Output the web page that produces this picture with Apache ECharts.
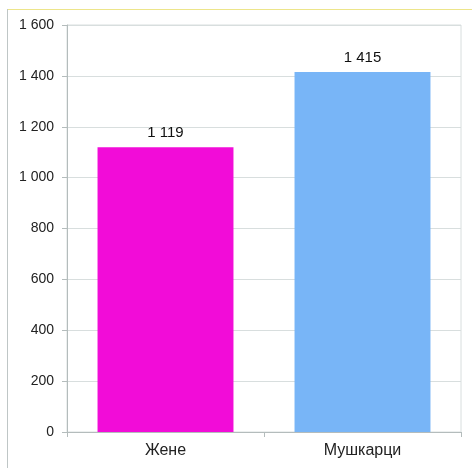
<!DOCTYPE html>
<html>
<head>
<meta charset="utf-8">
<script src="https://cdn.jsdelivr.net/npm/echarts@6/dist/echarts.min.js"></script>
<style>
html,body{margin:0;padding:0;background:#fff;}
#c{width:472px;height:468px;}
</style>
</head>
<body>
<div id="c"></div>
<script>
const categories = ['Жене', 'Мушкарци'];
const values = [1119, 1415];
const barColors = ['#F20CD8', '#78B5F7'];

function fmt(v) {
  return String(v).replace(/\B(?=(\d{3})+(?!\d))/g, ' ');
}

const chart = echarts.init(document.getElementById('c'), null, {renderer: 'canvas'});
chart.setOption({
  animation: false,
  backgroundColor: '#fff',
  textStyle: {fontFamily: 'Liberation Sans, Arial, sans-serif'},
  grid: {left: 67, right: 11, top: 25, bottom: 36, show: true, borderColor: '#D8DEDE', borderWidth: 1},
  graphic: [
    {type: 'line', shape: {x1: 7, y1: 9.5, x2: 472, y2: 9.5}, style: {stroke: '#EDE58A', lineWidth: 1}},
    {type: 'line', shape: {x1: 7.5, y1: 9, x2: 7.5, y2: 468}, style: {stroke: '#BFC6C6', lineWidth: 1}}
  ],
  xAxis: {
    type: 'category',
    data: categories,
    axisLine: {lineStyle: {color: '#B4BCBC', width: 1}},
    axisTick: {show: true, length: 5, lineStyle: {color: '#B4BCBC'}},
    axisLabel: {color: '#222', fontSize: 16, margin: 11}
  },
  yAxis: {
    type: 'value',
    min: 0, max: 1600, interval: 200,
    axisLine: {show: true, lineStyle: {color: '#B4BCBC', width: 1}},
    axisTick: {show: true, length: 5, lineStyle: {color: '#B4BCBC'}},
    splitLine: {lineStyle: {color: '#D8DEDE', width: 1}},
    axisLabel: {color: '#222', fontSize: 14, margin: 13, formatter: fmt}
  },
  series: [{
    type: 'bar',
    data: values.map((v, i) => ({value: v, itemStyle: {color: barColors[i]}})),
    barWidth: '69%',
    label: {show: true, position: 'top', distance: 7, color: '#111', fontSize: 15, formatter: p => fmt(p.value)}
  }]
});
</script>
</body>
</html>
